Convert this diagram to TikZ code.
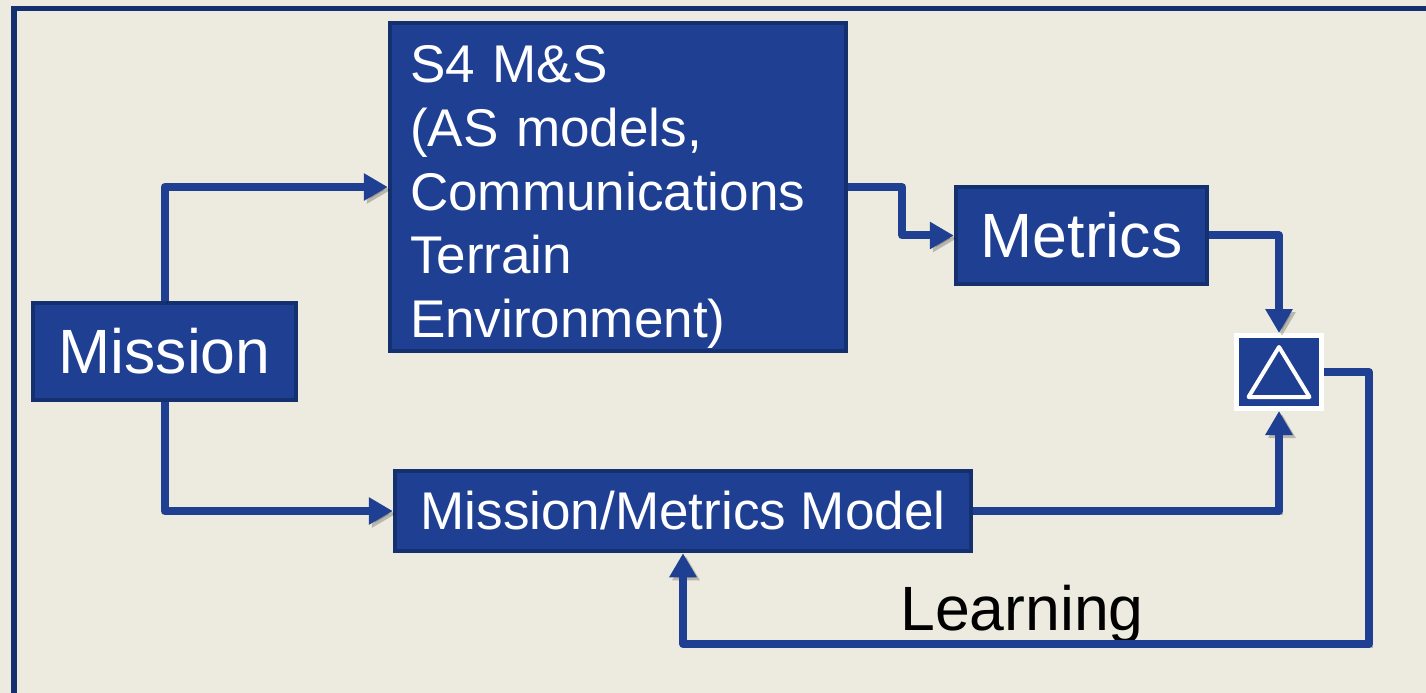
\documentclass[tikz,border=0pt]{standalone}
\usepackage{fontspec}
\setmainfont{Liberation Sans}
\usetikzlibrary{arrows.meta}
\definecolor{bgc}{HTML}{EDEBE0}
\definecolor{boxblue}{HTML}{1F3F93}
\definecolor{boxedge}{HTML}{14306E}
\definecolor{linkblue}{HTML}{1F4092}

\begin{document}
\begin{tikzpicture}[
    box/.style={draw=boxedge,line width=0.045cm,fill=boxblue,text=white,inner sep=0pt},
    big/.style={font=\fontsize{17.8}{21.4}\selectfont},
    small/.style={font=\fontsize{15.1}{18.2}\selectfont},
    link/.style={draw=linkblue,line width=0.08cm,line join=round,
        -{Triangle[length=0.24cm,width=0.26cm]},
        preaction={draw=black,opacity=0.22,transform canvas={shift={(0.03,-0.03)}}}},
    ]
        \useasboundingbox (0,0) rectangle (14.26,-6.93);
    %背景,外框
        \fill [bgc] (0,0) rectangle (14.26,-6.93);
        \draw [boxedge,line width=0.05cm] (0.14,-7.1) |- (14.4,-0.085);
    %方框
        \node [box,big,minimum width=2.63cm,minimum height=0.97cm] (mission) at (1.645,-3.515) {Mission};
        \node [box,small,minimum width=4.56cm,minimum height=3.28cm,text width=4.16cm,inner xsep=0.2cm,align=left] (s4) at (6.18,-1.87)
            {\rule{0pt}{0.57cm}S4 M\&S\\(AS models,\\Communications\\Terrain\\Environment)};
        \node [box,big,minimum width=2.51cm,minimum height=0.97cm] (metrics) at (10.815,-2.355) {Metrics};
        \node [box,small,minimum width=5.76cm,minimum height=0.80cm] (mmm) at (6.83,-5.11) {Mission/Metrics Model};
        \node [draw=white,line width=0.05cm,fill=boxblue,minimum width=0.85cm,minimum height=0.73cm,inner sep=0pt] (delta) at (12.79,-3.72) {};
        \draw [white,line width=0.04cm,line join=round] ([shift={(0,0.25)}]delta.center) -- ([shift={(-0.305,-0.25)}]delta.center) -- ([shift={(0.305,-0.25)}]delta.center) -- cycle;
        \node [big,anchor=base] (learn) at (10.22,-6.30) {Learning};
    %连线
        \draw [link] (mission.north) |- (s4.west);
        \draw [link] (mission.south) |- (mmm.west);
        \draw [link] (s4.east) -- ++(0.54,0) |- (metrics.west);
        \draw [link] (metrics.east) -| (delta.north);
        \draw [link] (mmm.east) -| (delta.south);
        \coordinate (back) at (13.69,-6.44);
        \draw [link] (delta.east) -| (back) -| (mmm.south);
\end{tikzpicture}
\end{document}
